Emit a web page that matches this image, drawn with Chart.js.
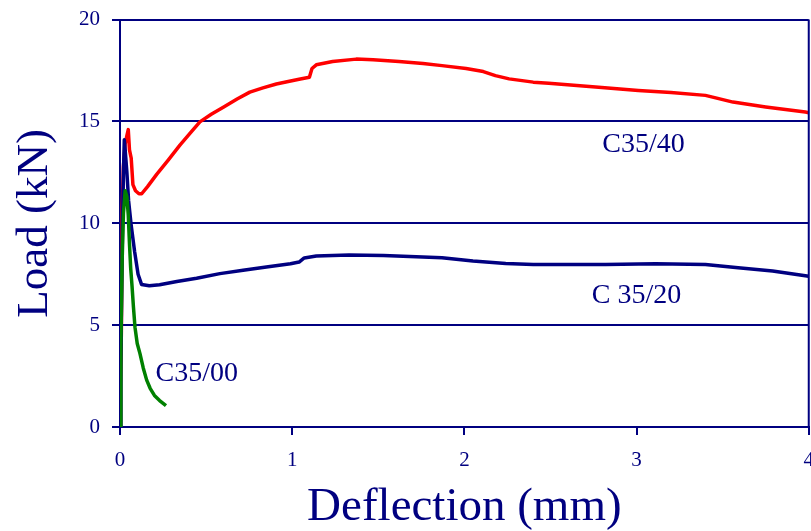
<!DOCTYPE html>
<html>
<head>
<meta charset="utf-8">
<script src="https://cdn.jsdelivr.net/npm/chart.js@4.4.0/dist/chart.umd.min.js"></script>
<style>
  html, body { margin: 0; padding: 0; background: #fff; overflow: hidden; }
  /* a bit wider/taller than the window so the plot edges land where the original has them */
  #wrap { position: relative; width: 827px; height: 536px; margin-top: -5px; }
</style>
</head>
<body>
<div id="wrap"><canvas id="chart"></canvas></div>
<script>
// tick values
const xTickValues = [0, 1, 2, 3, 4];
const yTickValues = [0, 5, 10, 15, 20];

// C35/40 (red)
const c3540X = [0, 0.003, 0.008, 0.013, 0.02, 0.03, 0.04, 0.048, 0.055, 0.065, 0.075, 0.09, 0.11, 0.126,
  0.16, 0.213, 0.28, 0.348, 0.41, 0.464, 0.53, 0.6, 0.68, 0.754, 0.83, 0.908, 0.97, 1.04, 1.1, 1.115,
  1.14, 1.235, 1.372, 1.47, 1.62, 1.76, 1.87, 2.01, 2.11, 2.18, 2.26, 2.4, 2.49, 2.78, 3.01, 3.2,
  3.4, 3.56, 3.75, 3.98, 4.0];
const c3540Y = [0, 2, 4.7, 10.75, 12.8, 13.9, 14.3, 14.6, 13.6, 13.2, 11.9, 11.6, 11.45, 11.45,
  11.8, 12.4, 13.1, 13.84, 14.45, 14.98, 15.35, 15.7, 16.1, 16.44, 16.65, 16.84, 16.95, 17.07, 17.17, 17.6,
  17.78, 17.94, 18.06, 18.03, 17.94, 17.85, 17.74, 17.6, 17.45, 17.25, 17.09, 16.93, 16.88, 16.68, 16.52, 16.42,
  16.28, 15.95, 15.71, 15.46, 15.43];

// C 35/20 (blue)
const c3520X = [0, 0.005, 0.01, 0.015, 0.02, 0.025, 0.03, 0.04, 0.05, 0.065, 0.085, 0.105, 0.125, 0.17,
  0.23, 0.33, 0.445, 0.58, 0.715, 0.85, 0.99, 1.04, 1.07, 1.14, 1.33, 1.53, 1.72, 1.87, 2.05, 2.24,
  2.4, 2.82, 3.11, 3.4, 3.59, 3.79, 4.0];
const c3520Y = [0, 3, 7, 10, 12.5, 14.1, 13.6, 12.5, 11.1, 9.9, 8.6, 7.5, 7.0, 6.93,
  6.98, 7.14, 7.3, 7.53, 7.69, 7.85, 8.01, 8.1, 8.3, 8.39, 8.44, 8.42, 8.36, 8.31, 8.15, 8.03,
  7.98, 7.98, 8.01, 7.98, 7.82, 7.66, 7.4];

// C35/00 (green)
const c3500X = [0, 0.005, 0.012, 0.02, 0.03, 0.04, 0.048, 0.055, 0.062, 0.07, 0.078, 0.087, 0.1, 0.116,
  0.135, 0.155, 0.175, 0.2, 0.23, 0.267];
const c3500Y = [0, 4, 8, 10.5, 11.6, 11.3, 10.4, 9.0, 7.8, 6.9, 5.9, 4.9, 4.1, 3.6,
  2.9, 2.3, 1.9, 1.55, 1.3, 1.05];

const seriesNames = ['C35/40', 'C 35/20', 'C35/00'];
// where each curve's name sits, in data units
const nameX = [3.04, 3.0, 0.446];
const nameY = [13.85, 6.44, 2.63];

const NAVY = '#000080';
const SERIF = "'Liberation Serif', 'Times New Roman', serif";

function toPoints(xs, ys) {
  return xs.map((x, i) => ({ x: x, y: ys[i] }));
}

// frame on the right and the curve names
const extrasPlugin = {
  id: 'extras',
  afterDatasetsDraw(chart) {
    const { ctx, chartArea, scales } = chart;
    ctx.save();
    ctx.strokeStyle = NAVY;
    ctx.lineWidth = 2;
    ctx.beginPath();
    ctx.moveTo(chartArea.right, chartArea.top);
    ctx.lineTo(chartArea.right, chartArea.bottom);
    ctx.stroke();

    ctx.fillStyle = NAVY;
    ctx.font = '28px ' + SERIF;
    ctx.textAlign = 'center';
    ctx.textBaseline = 'middle';
    seriesNames.forEach((name, i) => {
      ctx.fillText(name, scales.x.getPixelForValue(nameX[i]), scales.y.getPixelForValue(nameY[i]));
    });
    ctx.restore();
  }
};

const lineStyle = {
  showLine: true,
  pointRadius: 0,
  borderWidth: 3.5,
  tension: 0,
  borderJoinStyle: 'round',
  fill: false
};

new Chart(document.getElementById('chart').getContext('2d'), {
  type: 'scatter',
  data: {
    datasets: [
      Object.assign({ label: seriesNames[2], data: toPoints(c3500X, c3500Y), borderColor: '#008000' }, lineStyle),
      Object.assign({ label: seriesNames[1], data: toPoints(c3520X, c3520Y), borderColor: NAVY }, lineStyle),
      Object.assign({ label: seriesNames[0], data: toPoints(c3540X, c3540Y), borderColor: '#FF0000' }, lineStyle)
    ]
  },
  options: {
    responsive: true,
    maintainAspectRatio: false,
    animation: false,
    layout: { padding: 0 },
    plugins: {
      legend: { display: false },
      tooltip: { enabled: false }
    },
    scales: {
      x: {
        type: 'linear',
        min: 0,
        max: 4,
        afterBuildTicks: scale => { scale.ticks = xTickValues.map(v => ({ value: v })); },
        afterFit: scale => { scale.height = 104; },
        border: { display: true, color: NAVY, width: 2 },
        grid: { drawOnChartArea: false, drawTicks: true, tickLength: 8, color: NAVY, lineWidth: 2 },
        ticks: {
          padding: 13,
          maxRotation: 0,
          color: NAVY,
          font: { family: SERIF, size: 21 }
        },
        title: {
          display: true,
          text: 'Deflection (mm)',
          color: NAVY,
          padding: { top: 0, bottom: -5 },
          font: { family: SERIF, size: 47 }
        }
      },
      y: {
        type: 'linear',
        min: 0,
        max: 20,
        afterBuildTicks: scale => { scale.ticks = yTickValues.map(v => ({ value: v })); },
        afterFit: scale => { scale.width = 120; },
        border: { display: true, color: NAVY, width: 2 },
        grid: { drawTicks: true, tickLength: 8, color: NAVY, lineWidth: 2 },
        ticks: {
          padding: 12,
          color: NAVY,
          font: { family: SERIF, size: 21 }
        },
        title: {
          display: true,
          text: 'Load (kN)',
          color: NAVY,
          padding: { top: 8, bottom: 0 },
          font: { family: SERIF, size: 45 }
        }
      }
    }
  },
  plugins: [extrasPlugin]
});
</script>
</body>
</html>
